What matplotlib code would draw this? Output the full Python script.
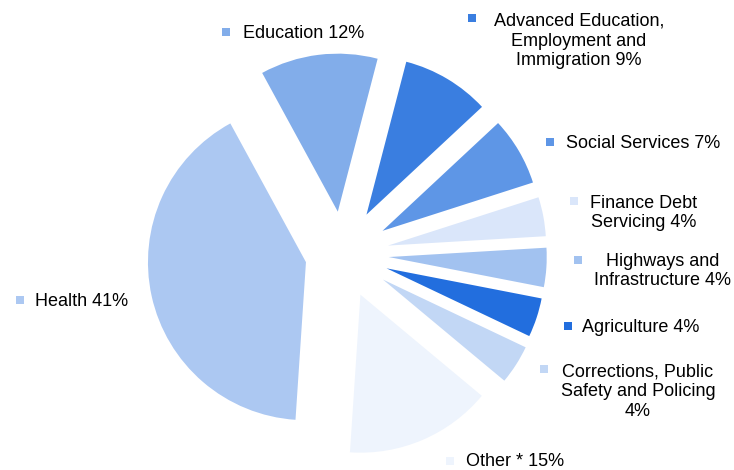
import matplotlib.pyplot as plt

# spending shares, clockwise from the top
labels = ["Education 12%",
          "Advanced Education,\nEmployment and\nImmigration 9%",
          "Social Services 7%",
          "Finance Debt\nServicing 4%",
          "Highways and\nInfrastructure 4%",
          "Agriculture 4%",
          "Corrections, Public\nSafety and Policing\n4%",
          "Other * 15%",
          "Health 41%"]
shares = [12, 9, 7, 4, 4, 4, 4, 15, 41]
colors = ["#82ADEA", "#3A7EE0", "#5E96E6", "#DAE6FA", "#A2C2F0",
          "#226EDE", "#C2D7F5", "#EEF4FD", "#ACC8F2"]
# pull-out of each slice as a share of the radius
explode = [0.27, 0.29, 0.29, 0.29, 0.29, 0.29, 0.30, 0.28, 0.24]

# label spots (pixels from top-left) and marker spots
label_pos = [(304, 33), (579, 41), (643, 143), (644, 213), (663, 271),
             (641, 327), (638, 392), (515, 462), (82, 301)]
mark_pos = [(226, 32), (472, 18), (550, 142), (574, 201), (578, 260),
            (568, 326), (544, 369), (450, 461), (20, 300)]

plt.rcParams['font.family'] = ['Liberation Sans', 'DejaVu Sans']

W, H = 734, 470
R = 158
fig = plt.figure(figsize=(W / 100, H / 100), dpi=100)
ax = fig.add_axes([0, 0, 1, 1])

ax.pie(shares, colors=colors, explode=[e * R for e in explode],
       startangle=118.6, counterclock=False, radius=R,
       center=(343, H - 254), wedgeprops=dict(linewidth=0), frame=True)
ax.set_xlim(0, W)
ax.set_ylim(0, H)
ax.set_aspect('equal')
ax.axis('off')

for lab, (x, y), (mx, my), c in zip(labels, label_pos, mark_pos, colors):
    ax.text(x, H - y, lab, ha='center', va='center', fontsize=13,
            linespacing=1.2, color='#000000')
    ax.scatter([mx], [H - my], marker='s', s=30, color=c, linewidths=0)

fig.savefig("out.png", dpi=100)
